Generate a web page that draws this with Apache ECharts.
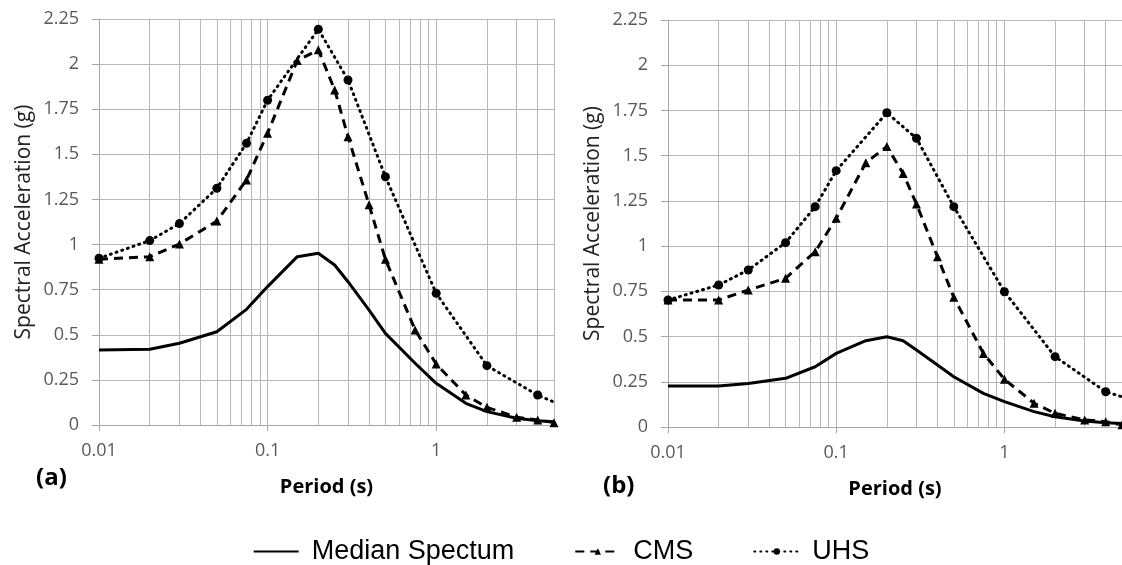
<!DOCTYPE html>
<html>
<head>
<meta charset="utf-8">
<script src="https://cdn.jsdelivr.net/npm/echarts@6/dist/echarts.min.js"></script>
<style>
  html, body { margin: 0; padding: 0; background: #fff; }
  #main { width: 1122px; height: 565px; }
</style>
</head>
<body>
<div id="main"></div>
<script>
// periods (s) shared by median and CMS
var periods = [0.01, 0.02, 0.03, 0.05, 0.075, 0.1, 0.15, 0.2, 0.25, 0.3, 0.4, 0.5, 0.75, 1, 1.5, 2, 3, 4, 5];
var uhsPeriods = [0.01, 0.02, 0.03, 0.05, 0.075, 0.1, 0.2, 0.3, 0.5, 1, 2, 4, 5];

// panel (a)
var medianA = [0.416, 0.42, 0.453, 0.517, 0.641, 0.767, 0.933, 0.952, 0.887, 0.794, 0.637, 0.508, 0.342, 0.231, 0.12, 0.074, 0.037, 0.024, 0.018];
var cmsA = [0.918, 0.933, 1.003, 1.13, 1.358, 1.617, 2.02, 2.079, 1.857, 1.598, 1.22, 0.918, 0.527, 0.338, 0.166, 0.098, 0.043, 0.028, 0.013];
var uhsA = [0.924, 1.022, 1.116, 1.312, 1.561, 1.8, 2.193, 1.912, 1.376, 0.73, 0.329, 0.166, 0.127];

// panel (b)
var medianB = [0.227, 0.227, 0.241, 0.269, 0.333, 0.407, 0.477, 0.499, 0.477, 0.426, 0.343, 0.278, 0.186, 0.14, 0.085, 0.057, 0.033, 0.024, 0.02];
var cmsB = [0.702, 0.702, 0.757, 0.822, 0.969, 1.154, 1.461, 1.55, 1.402, 1.233, 0.941, 0.717, 0.407, 0.264, 0.131, 0.076, 0.039, 0.029, 0.012];
var uhsB = [0.702, 0.785, 0.868, 1.019, 1.218, 1.417, 1.737, 1.596, 1.218, 0.748, 0.389, 0.195, 0.167];

// log-scale minor gridlines
var minorTicks = [0.02, 0.03, 0.04, 0.05, 0.06, 0.07, 0.08, 0.09, 0.2, 0.3, 0.4, 0.5, 0.6, 0.7, 0.8, 0.9, 2, 3, 4];
var legendNames = ["Median Spectum", "CMS", "UHS"];

var gridColor = "#b8b8b8";
var labelFont = "'Open Sans', 'DejaVu Sans', sans-serif";

function pairs(xs, ys) {
  return xs.map(function (x, i) { return [x, ys[i]]; });
}
// last UHS point sits on the plot edge without a marker
function uhsData(ys) {
  var d = pairs(uhsPeriods, ys);
  d[d.length - 1] = { value: d[d.length - 1], symbol: "none" };
  return d;
}

function xAxisFor(idx) {
  return {
    type: "log",
    logBase: 10,
    gridIndex: idx,
    min: 0.01,
    max: 5,
    name: "Period (s)",
    nameLocation: "middle",
    nameGap: 52,
    nameTextStyle: { fontFamily: labelFont, fontWeight: "bold", fontSize: 20, color: "#000" },
    axisLine: { show: true, lineStyle: { color: "#a6a6a6", width: 1 } },
    axisTick: { show: true, length: 6, lineStyle: { color: "#a6a6a6" } },
    axisLabel: { showMaxLabel: false, fontFamily: labelFont, fontSize: 18, color: "#595959", margin: 17 },
    splitLine: { show: true, lineStyle: { color: gridColor, width: 1 } }
  };
}

function yAxisFor(idx) {
  return {
    type: "value",
    gridIndex: idx,
    min: 0,
    max: 2.25,
    interval: 0.25,
    name: "Spectral Acceleration (g)",
    nameLocation: "middle",
    nameRotate: 90,
    nameGap: 64,
    nameTextStyle: { fontFamily: labelFont, fontSize: 21, color: "#222" },
    axisLine: { show: true, lineStyle: { color: "#a6a6a6", width: 1 } },
    axisTick: { show: true, length: 7, lineStyle: { color: "#a6a6a6" } },
    axisLabel: { fontFamily: labelFont, fontSize: 18, color: "#595959", margin: 20 },
    splitLine: { show: true, lineStyle: { color: gridColor, width: 1 } }
  };
}

function seriesFor(idx, med, cms, uhs) {
  return [
    {
      name: legendNames[0],
      type: "line",
      xAxisIndex: idx,
      yAxisIndex: idx,
      data: pairs(periods, med),
      symbol: "none",
      lineStyle: { color: "#000", width: 3 },
      itemStyle: { color: "#000" },
      markLine: {
        silent: true,
        z: 1,
        symbol: ["none", "none"],
        label: { show: false },
        lineStyle: { type: "solid", color: gridColor, width: 1 },
        data: minorTicks.map(function (t) { return { xAxis: t }; })
      }
    },
    {
      name: legendNames[1],
      type: "line",
      xAxisIndex: idx,
      yAxisIndex: idx,
      data: pairs(periods, cms),
      symbol: "triangle",
      symbolSize: 9,
      lineStyle: { color: "#000", width: 3, type: [9, 6] },
      itemStyle: { color: "#000" }
    },
    {
      name: legendNames[2],
      type: "line",
      xAxisIndex: idx,
      yAxisIndex: idx,
      data: uhsData(uhs),
      symbol: "circle",
      symbolSize: 9,
      lineStyle: { color: "#000", width: 3, type: [1, 5], cap: "round" },
      itemStyle: { color: "#000" }
    }
  ];
}

var chart = echarts.init(document.getElementById("main"));
chart.setOption({
  backgroundColor: "#fff",
  animation: false,
  grid: [
    { left: 99, top: 19, width: 455, height: 406 },
    { left: 668, top: 20, width: 454, height: 407 }
  ],
  xAxis: [xAxisFor(0), xAxisFor(1)],
  yAxis: [yAxisFor(0), yAxisFor(1)],
  legend: {
    data: [
      { name: legendNames[0], itemStyle: { opacity: 0 } },
      { name: legendNames[1] },
      { name: legendNames[2] }
    ],
    left: "center",
    top: 533,
    itemWidth: 45,
    itemHeight: 8,
    itemGap: 60,
    textStyle: { fontFamily: "'Liberation Sans', Arial, sans-serif", fontSize: 27, color: "#000", padding: [0, 0, 0, 8] }
  },
  graphic: [
    { type: "text", left: 36, top: 466, style: { text: "(a)", fontFamily: labelFont, fontWeight: "bold", fontSize: 24, fill: "#000" } },
    { type: "text", left: 603, top: 474, style: { text: "(b)", fontFamily: labelFont, fontWeight: "bold", fontSize: 24, fill: "#000" } }
  ],
  series: seriesFor(0, medianA, cmsA, uhsA).concat(seriesFor(1, medianB, cmsB, uhsB))
});
</script>
</body>
</html>
